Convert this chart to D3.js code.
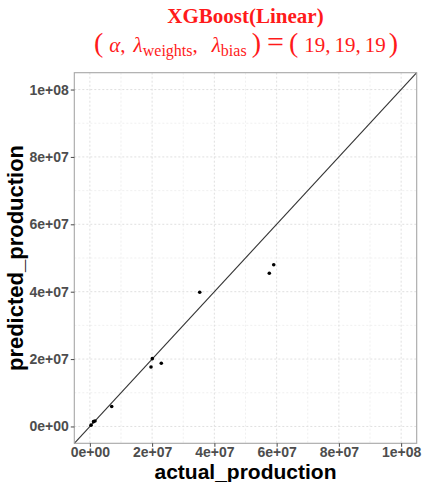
<!DOCTYPE html>
<html>
<head>
<meta charset="utf-8">
<script src="https://cdn.jsdelivr.net/npm/d3@7"></script>
<style>
  body { margin: 0; background: #fff; }
  svg { display: block; }
</style>
</head>
<body>
<svg id="chart" width="423" height="482"></svg>
<script>
// Actual vs predicted production, one point per observation
const actual    = [0.37e6, 1.17e6, 1.65e6, 7.02e6, 19.64e6, 20.06e6, 22.95e6, 35.29e6, 57.65e6, 59.07e6];
const predicted = [0.39e6, 1.42e6, 1.63e6, 5.93e6, 17.66e6, 20.12e6, 18.75e6, 39.82e6, 45.46e6, 48.01e6];
const majorTicks = [0, 2e7, 4e7, 6e7, 8e7, 1e8];
const minorTicks = [1e7, 3e7, 5e7, 7e7, 9e7];
const tickLabels = ["0e+00", "2e+07", "4e+07", "6e+07", "8e+07", "1e+08"];
const axisDomain = [-5e6, 1.05e8];

const svg = d3.select("#chart");
const margin = { left: 74.3, top: 72.7, right: 423 - 416.7, bottom: 482 - 443.3 };
const W = 423 - margin.left - margin.right;
const H = 482 - margin.top - margin.bottom;

const x = d3.scaleLinear().domain(axisDomain).range([0, W]);
const y = d3.scaleLinear().domain(axisDomain).range([H, 0]);

const g = svg.append("g").attr("transform", `translate(${margin.left},${margin.top})`);

// grid: minor then major, dashed
const grid = g.append("g");
function gridLines(values, stroke, width) {
  grid.append("g").selectAll("line").data(values).join("line")
    .attr("x1", d => x(d)).attr("x2", d => x(d)).attr("y1", 0).attr("y2", H)
    .attr("stroke", stroke).attr("stroke-width", width).attr("stroke-dasharray", "2,2");
  grid.append("g").selectAll("line").data(values).join("line")
    .attr("y1", d => y(d)).attr("y2", d => y(d)).attr("x1", 0).attr("x2", W)
    .attr("stroke", stroke).attr("stroke-width", width).attr("stroke-dasharray", "2,2");
}
gridLines(minorTicks, "#e6e6e6", 0.6);
gridLines(majorTicks, "#dcdcdc", 0.9);

// identity line y = x across the panel
g.append("line")
  .attr("x1", x(axisDomain[0])).attr("y1", y(axisDomain[0]))
  .attr("x2", x(axisDomain[1])).attr("y2", y(axisDomain[1]))
  .attr("stroke", "#333").attr("stroke-width", 1.1);

// points
g.selectAll("circle").data(actual).join("circle")
  .attr("cx", d => x(d)).attr("cy", (d, i) => y(predicted[i]))
  .attr("r", 1.8).attr("fill", "#000");

// panel border
g.append("rect").attr("width", W).attr("height", H)
  .attr("fill", "none").attr("stroke", "#a6a6a6").attr("stroke-width", 1.1);

// axes
const fmt = d => tickLabels[majorTicks.indexOf(d)];
const xAxis = g.append("g").attr("transform", `translate(0,${H})`)
  .call(d3.axisBottom(x).tickValues(majorTicks).tickFormat(fmt).tickSizeOuter(0).tickSize(3.5).tickPadding(0.5));
const yAxis = g.append("g")
  .call(d3.axisLeft(y).tickValues(majorTicks).tickFormat(fmt).tickSizeOuter(0).tickSize(3.5).tickPadding(2));
[xAxis, yAxis].forEach(a => {
  a.select(".domain").remove();
  a.selectAll(".tick line").attr("stroke", "#333").attr("stroke-width", 0.9);
  a.selectAll(".tick text").attr("fill", "#4d4d4d")
    .style("font-family", "Liberation Sans, Arial, sans-serif")
    .style("font-size", "14px").style("font-weight", "bold");
});

// axis titles
svg.append("text").attr("x", margin.left + W / 2).attr("y", 479)
  .attr("text-anchor", "middle")
  .style("font-family", "Liberation Sans, Arial, sans-serif")
  .style("font-size", "21px").style("font-weight", "bold").attr("fill", "#000")
  .text("actual_production");
svg.append("text")
  .attr("transform", `translate(23,${margin.top + H / 2}) rotate(-90)`)
  .attr("text-anchor", "middle")
  .style("font-family", "Liberation Sans, Arial, sans-serif")
  .style("font-size", "22px").style("font-weight", "bold").attr("fill", "#000")
  .text("predicted_production");

// titles
const red = "#ff1a1a";
svg.append("text").attr("x", margin.left + W / 2).attr("y", 23)
  .attr("text-anchor", "middle").attr("fill", red)
  .style("font-family", "Liberation Serif, serif")
  .style("font-size", "21px").style("font-weight", "bold")
  .text("XGBoost(Linear)");

const sub = svg.append("text").attr("x", 94).attr("y", 52)
  .attr("fill", red)
  .style("font-family", "Liberation Serif, serif").style("font-size", "21px");
const parts = [
  { t: "(", size: 28 },
  { t: "\u03B1", italic: true, dx: 6 },
  { t: "," },
  { t: "\u03BB", italic: true, dx: 8 },
  { t: "weights", size: 16, sub: true },
  { t: "," },
  { t: "\u03BB", italic: true, dx: 14 },
  { t: "bias", size: 16, sub: true },
  { t: ")", size: 28, dx: 5 },
  { t: "=", size: 30, dx: 6 },
  { t: "(", size: 28, dx: 5 },
  { t: "19,", dx: 6 },
  { t: "19,", dx: 4 },
  { t: "19", dx: 4 },
  { t: ")", size: 28, dx: 3 }
];
let shifted = false;
parts.forEach(p => {
  const ts = sub.append("tspan").text(p.t);
  if (p.size) ts.style("font-size", p.size + "px");
  if (p.italic) ts.style("font-style", "italic");
  if (p.dx) ts.attr("dx", p.dx);
  if (p.sub && !shifted) { ts.attr("dy", 4); shifted = true; }
  else if (!p.sub && shifted) { ts.attr("dy", -4); shifted = false; }
});
</script>
</body>
</html>
